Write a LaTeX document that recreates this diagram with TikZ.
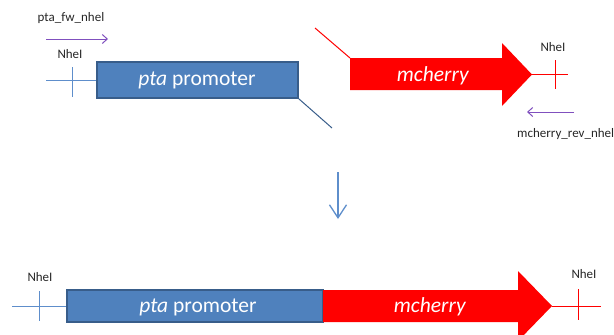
\documentclass[tikz,border=0pt]{standalone}
\usepackage{fontspec}
\setmainfont{Carlito}
\usetikzlibrary{arrows.meta}
\definecolor{pblue}{HTML}{4F81BD}
\definecolor{pborder}{HTML}{385D8A}
\definecolor{lblue}{HTML}{5E8ECB}
\definecolor{ppurple}{HTML}{8050BE}
\definecolor{pred}{HTML}{FF0000}
\tikzset{
  promoter/.style={draw=pborder, line width=1.6pt, fill=pblue, inner sep=0pt},
  geneline/.style={lblue, line width=1pt},
  redline/.style={pred, line width=1pt},
  primer/.style={ppurple, line width=1pt, -{Straight Barb[length=5pt,width=9pt]}},
  lbl/.style={font=\fontsize{13}{15}\selectfont, text=black!85, inner sep=0pt},
  intext/.style={font=\fontsize{21.5}{24}\selectfont, text=white, inner sep=0pt},
  redarrow/.style={fill=pred, draw=none}
}
\begin{document}
\begin{tikzpicture}[x=1pt,y=-1pt]
\useasboundingbox (0,0) rectangle (614,335);
\clip (0,0) rectangle (614,335);
% ---------- top: promoter fragment ----------
\node[lbl] (fwlbl) at (71,18) {pta\_fw\_nhel};
\coordinate (fwA) at (46,39);
\coordinate (fwB) at (108,39);
\draw[primer] (fwA) -- (fwB);
\node[lbl] (nhe1) at (70,54) {NheI};
\node[promoter, minimum width=201pt, minimum height=36pt] (prom1) at (197.5,80) {};
\node[intext] (prom1t) at (197,80) {\textit{pta} promoter};
\coordinate (l1) at (46,80);
\coordinate (t1a) at (72,67);
\coordinate (t1b) at (72,97);
\draw[geneline] (l1) -- (prom1.west);
\draw[geneline] (t1a) -- (t1b);
\coordinate (d1) at (332,128);
\draw[pborder, line width=1pt] (prom1.south east) -- (d1);
% ---------- top: mcherry fragment ----------
\coordinate (m1a) at (350,58);
\coordinate (m1b) at (502,58);
\coordinate (m1c) at (502,43);
\coordinate (m1tip) at (532,74.5);
\coordinate (m1d) at (502,106);
\coordinate (m1e) at (502,90);
\coordinate (m1f) at (350,90);
\fill[redarrow] (m1a) -- (m1b) -- (m1c) -- (m1tip) -- (m1d) -- (m1e) -- (m1f) -- cycle;
\node[intext] (mch1) at (433,76) {\textit{mcherry}};
\coordinate (r1) at (315,28);
\draw[redline] (r1) -- (m1a);
\coordinate (r2) at (568,74.5);
\draw[redline] (m1tip) -- (r2);
\coordinate (t2a) at (555,60);
\coordinate (t2b) at (555,89);
\draw[redline] (t2a) -- (t2b);
\node[lbl] (nhe2) at (553,47) {NheI};
\coordinate (rvA) at (574,112);
\coordinate (rvB) at (527,112);
\draw[primer] (rvA) -- (rvB);
\node[lbl, anchor=west] (rvlbl) at (517,134) {mcherry\_rev\_nhel};
% ---------- middle arrow ----------
\coordinate (dA) at (338,172);
\coordinate (dB) at (338,219);
\draw[lblue, line width=1.3pt, -{Straight Barb[length=13pt,width=17pt,line width=1.3pt]}] (dA) -- (dB);
% ---------- bottom: fused construct ----------
\node[lbl] (nhe3) at (40,277) {NheI};
\node[promoter, minimum width=256pt, minimum height=32pt] (prom2) at (195,306) {};
\coordinate (m2a) at (323,290);
\coordinate (m2b) at (518,290);
\coordinate (m2c) at (518,271);
\coordinate (m2tip) at (552,306);
\coordinate (m2d) at (518,341);
\coordinate (m2e) at (518,322);
\coordinate (m2f) at (323,322);
\fill[redarrow] (m2a) -- (m2b) -- (m2c) -- (m2tip) -- (m2d) -- (m2e) -- (m2f) -- cycle;
\node[intext] (prom2t) at (198,307) {\textit{pta} promoter};
\node[intext] (mch2) at (430,307) {\textit{mcherry}};
\coordinate (l3) at (12,306);
\draw[geneline] (l3) -- (prom2.west);
\coordinate (t3a) at (39,291);
\coordinate (t3b) at (39,321);
\draw[geneline] (t3a) -- (t3b);
\coordinate (r3) at (601,306);
\draw[redline] (m2tip) -- (r3);
\coordinate (t4a) at (578,289);
\coordinate (t4b) at (578,320);
\draw[redline] (t4a) -- (t4b);
\node[lbl] (nhe4) at (584,274) {NheI};
\end{tikzpicture}
\end{document}
